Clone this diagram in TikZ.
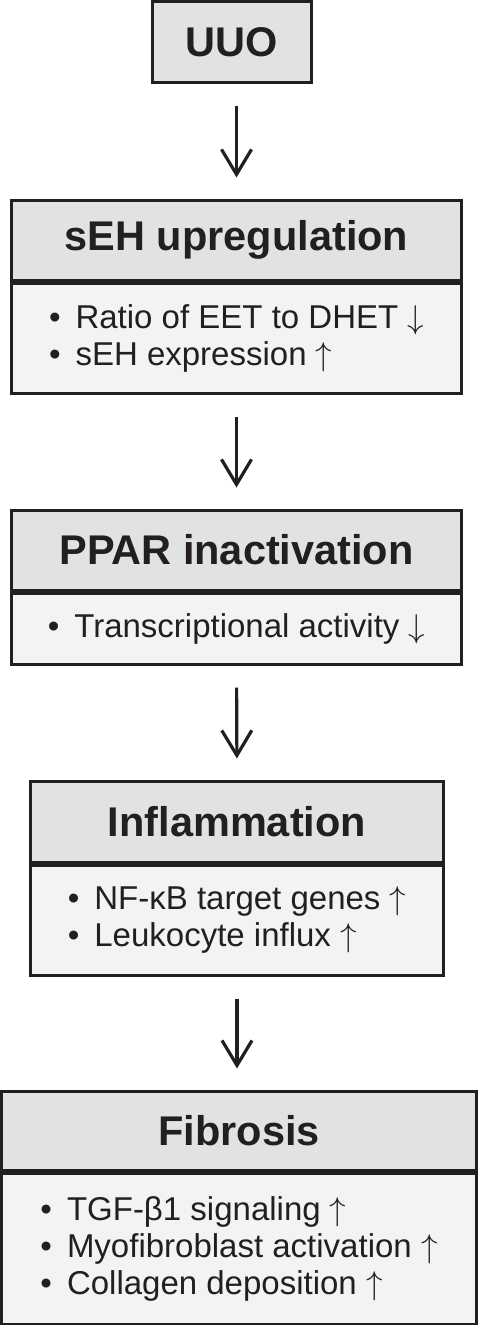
\RequirePackage{fix-cm}
\documentclass[tikz,border=0pt]{standalone}
\usepackage{fontspec}
\setmainfont{Liberation Sans}
\usetikzlibrary{arrows.meta}
\definecolor{ink}{HTML}{231F20}
\definecolor{headfill}{HTML}{E1E2E4}
\definecolor{bodyfill}{HTML}{F3F3F3}
\newcommand{\bitem}[1]{\textbullet\hspace{15pt}#1}
\newcommand{\upar}{{\fontsize{33}{33}\selectfont$\uparrow$}}
\newcommand{\dnar}{{\fontsize{33}{33}\selectfont$\downarrow$}}
\tikzset{
  headbox/.style={draw=ink, fill=headfill, line width=3pt, inner sep=0pt,
    text=ink, font=\fontsize{41.5}{44}\selectfont\bfseries},
  bodybox/.style={draw=ink, fill=bodyfill, line width=3pt, inner sep=0pt,
    text=ink, align=left, anchor=north, font=\fontsize{33}{37}\selectfont},
  flowarrow/.style={draw=ink, line width=3.2pt,
    -{Straight Barb[length=25pt,width=30pt]},
    shorten <=22pt, shorten >=21pt}
}
\begin{document}
\begin{tikzpicture}[x=1pt,y=-1pt]
\useasboundingbox (0,0) rectangle (478,1325);
\fill[white] (0,0) rectangle (478,1325);

% UUO
\node[headbox, minimum width=159pt, minimum height=80.5pt] (uuo) at (232,41.75) {UUO};

% sEH upregulation
\node[headbox, minimum width=450pt, minimum height=80pt] (seh) at (236.5,240) {sEH upregulation};
\node[bodybox, minimum width=450pt, minimum height=110pt] (sehb) at (seh.south)
  {\bitem{Ratio of EET to DHET \dnar}\\ \bitem{sEH expression \upar}};

% PPAR inactivation
\node[headbox, minimum width=450pt, minimum height=80pt] (ppar) at (236.5,550) {PPAR inactivation};
\node[bodybox, minimum width=450pt, minimum height=71pt] (pparb) at (ppar.south)
  {\bitem{Transcriptional activity \dnar}};

% Inflammation
\node[headbox, minimum width=413pt, minimum height=81pt] (infl) at (237,821.5) {Inflammation};
\node[bodybox, minimum width=413pt, minimum height=110pt] (inflb) at (infl.south)
  {\bitem{NF-κB target genes \upar}\\ \bitem{Leukocyte influx \upar}};

% Fibrosis
\node[headbox, minimum width=475pt, minimum height=79pt] (fib) at (239,1130.5) {Fibrosis};
\node[bodybox, minimum width=475pt, minimum height=151.5pt] (fibb) at (fib.south)
  {\bitem{TGF-β1 signaling \upar}\\ \bitem{Myofibroblast activation \upar}\\ \bitem{Collagen deposition \upar}};

% connectors
\draw[flowarrow] (uuo.south -| seh.north) -- (seh.north);
\draw[flowarrow] (sehb.south) -- (ppar.north);
\draw[flowarrow] (pparb.south) -- (infl.north);
\draw[flowarrow] (inflb.south) -- (fib.north -| inflb.south);
\end{tikzpicture}
\end{document}
